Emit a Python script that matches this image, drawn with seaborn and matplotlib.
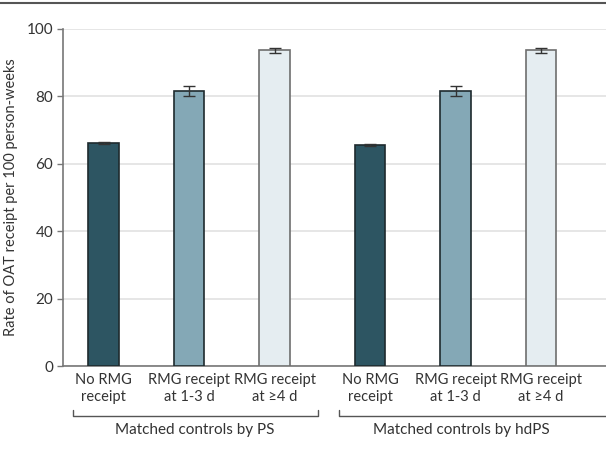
import matplotlib
matplotlib.use("Agg")
import matplotlib.pyplot as plt
import matplotlib.transforms as mtransforms
from matplotlib.lines import Line2D
import numpy as np
import pandas as pd
import seaborn as sns

# Data
groups = ["Matched controls by PS", "Matched controls by hdPS"]
categories = ["No RMG\nreceipt", "RMG receipt\nat 1-3 d", "RMG receipt\nat \u22654 d"]
rate_ps = [66.3, 81.5, 93.7]
rate_hdps = [65.5, 81.5, 93.7]
ci_low_ps = [66.0, 80.0, 93.0]
ci_high_ps = [66.6, 83.0, 94.4]
ci_low_hdps = [65.2, 80.0, 93.0]
ci_high_hdps = [65.8, 83.0, 94.4]

bar_colors = ["#2d5562", "#84a8b6", "#e5edf1"]
edge_colors = ["#1e2a2e", "#1e2a2e", "#6e6e6e"]

# Bar positions (second group shifted to leave a wider gap)
group_offset = 3.117
positions = [0, 1, 2, group_offset, group_offset + 1, group_offset + 2]

df = pd.DataFrame({
    "pos": positions,
    "rate": rate_ps + rate_hdps,
    "lo": ci_low_ps + ci_low_hdps,
    "hi": ci_high_ps + ci_high_hdps,
    "cat": categories * 2,
})

sns.set_theme(style="white")
plt.rcParams["font.family"] = ["Lato", "DejaVu Sans"]
text_color = "#333333"
fs = 10.5

fig = plt.figure(figsize=(6.06, 4.65), dpi=100)
ax = fig.add_axes([63 / 606, 99 / 465, 543 / 606, 337 / 465])

sns.barplot(
    data=df, x="pos", y="rate", hue="cat", palette=bar_colors,
    hue_order=categories, native_scale=True, width=0.357, dodge=False,
    saturation=1, errorbar=None, legend=False, ax=ax, zorder=3, linewidth=1.2,
)

# Set edge colours per category
for container, ec in zip(ax.containers, edge_colors):
    for patch in container:
        patch.set_edgecolor(ec)

# Error bars
ax.errorbar(
    df["pos"], df["rate"],
    yerr=[df["rate"] - df["lo"], df["hi"] - df["rate"]],
    fmt="none", ecolor="#333333", elinewidth=1.0, capsize=4.5,
    capthick=1.0, zorder=4,
)

ax.set_xlim(-0.474, 5.877)
ax.set_ylim(0, 100)
ax.set_yticks([0, 20, 40, 60, 80, 100])
ax.yaxis.grid(True, color="#e2e2e2", linewidth=1.2, zorder=0)
ax.set_axisbelow(True)

ax.set_xticks(positions)
ax.set_xticklabels(categories * 2, fontsize=fs, color=text_color, linespacing=1.3)
ax.tick_params(axis="x", length=0, pad=5)
ax.tick_params(axis="y", length=4, width=1, color="#777777", labelsize=fs + 0.5,
               labelcolor=text_color, pad=3, left=True)
ax.set_xlabel("")
ax.set_ylabel("Rate of OAT receipt per 100 person-weeks", fontsize=fs,
              color=text_color)
ax.yaxis.set_label_coords(-0.083, 0.5)

for side in ["top", "right"]:
    ax.spines[side].set_visible(False)
for side in ["left", "bottom"]:
    ax.spines[side].set_color("#777777")
    ax.spines[side].set_linewidth(1.2)

# Group brackets below the tick labels
trans = mtransforms.blended_transform_factory(ax.transData, ax.transAxes)
y_br, y_tick = -0.148, -0.130
brackets = [(-0.357, 2.509), (2.754, 6.2)]
label_x = [1.07, 4.19]
for (x0, x1), lx, name in zip(brackets, label_x, groups):
    ax.plot([x0, x0, x1, x1], [y_tick, y_br, y_br, y_tick], transform=trans,
            color="#555555", linewidth=1.0, clip_on=False)
    ax.text(lx, -0.19, name, transform=trans, ha="center", va="center",
            fontsize=fs + 0.5, color=text_color)

# Rule across the top of the figure
fig.add_artist(Line2D([0, 1], [1 - 3 / 465, 1 - 3 / 465], transform=fig.transFigure,
                      color="#555555", linewidth=1.5))

fig.savefig("out.png", dpi=100)
